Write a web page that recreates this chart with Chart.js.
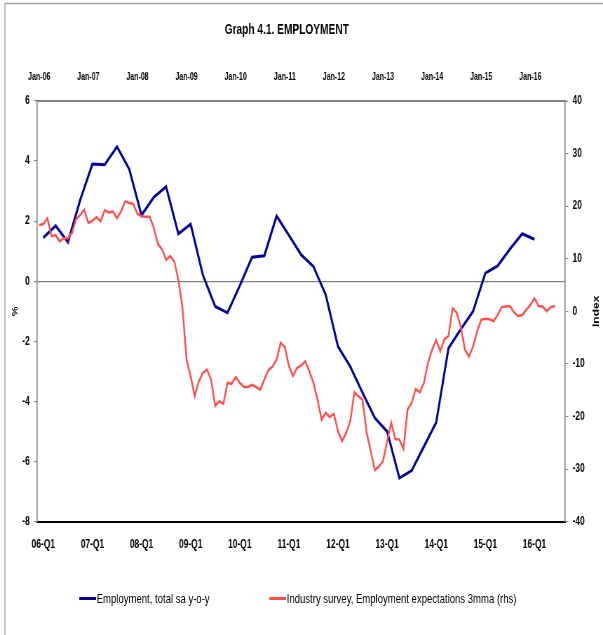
<!DOCTYPE html>
<html>
<head>
<meta charset="utf-8">
<title>Graph 4.1. EMPLOYMENT</title>
<script src="https://cdn.jsdelivr.net/npm/chart.js@4.4.1/dist/chart.umd.min.js"></script>
<style>
  html, body { margin: 0; background: #fff; overflow: hidden; }
  /* the original picture is squeezed sideways, so the whole chart is drawn wider and scaled */
  #wrap { position: relative; width: 860px; height: 635px; transform: scaleX(0.70116); transform-origin: 0 0; }
  #graf { width: 860px; height: 635px; }
  #legend {
    position: absolute; left: 0; top: 589px; width: 860px; height: 18px;
    font-family: 'Liberation Sans', Arial, sans-serif;
    font-size: 13.6px; color: #000; white-space: nowrap;
  }
  #legend .item { position: absolute; top: 0; display: flex; align-items: center; height: 18px; }
  #legend .swatch { width: 24px; height: 3px; margin-right: 1px; }
</style>
</head>
<body>
<div id="wrap">
  <canvas id="graf" width="860" height="635"></canvas>
  <div id="legend"></div>
</div>
<script>
const FONT = "'Liberation Sans', Arial, sans-serif";

// categories: quarters 06-Q1 .. 16-Q3 (bottom axis), months Jan-06 .. Sep-16 (top axis)
const years = ['06','07','08','09','10','11','12','13','14','15','16'];
const meses = ['Jan','Feb','Mar','Apr','May','Jun','Jul','Aug','Sep','Oct','Nov','Dec'];
const trimestres = [];
const mensual = [];
years.forEach(function(y){
  for (let q = 1; q <= 4; q++) trimestres.push(y + '-Q' + q);
  meses.forEach(function(m){ mensual.push(m + '-' + y); });
});
trimestres.splice(43);
mensual.splice(129);

// Employment, total sa y-o-y (%), quarterly 06-Q1 .. 16-Q1
const empleo = [
  1.45, 1.85, 1.3, 2.7,
  3.9, 3.88, 4.48, 3.73,
  2.2, 2.8, 3.15, 1.58,
  1.9, 0.2, -0.84, -1.05,
  -0.15, 0.8, 0.85, 2.17,
  1.53, 0.88, 0.49, -0.45,
  -2.17, -2.84, -3.71, -4.55,
  -5.0, -6.55, -6.3, -5.5,
  -4.7, -2.23, -1.6, -1.0,
  0.27, 0.51, 1.07, 1.58,
  1.4
];

// Industry survey, employment expectations 3mma (index), monthly Jan-06 .. Jul-16
const encuesta = [
  16.4, 16.6, 17.7, 14.3, 14.5, 13.3, 13.9, 13.9, 14.9, 17.5, 18.3, 19.3,
  16.8, 17.2, 17.9, 17.1, 19.2, 18.8, 19.0, 17.7, 19.0, 20.9, 20.6, 20.4,
  18.5, 18.1, 18.0, 18.0, 15.8, 12.8, 11.8, 9.8, 10.5, 9.5, 6.0, 0.7,
  -9.2, -12.4, -16.1, -13.3, -11.7, -11.1, -13.0, -18.0, -17.1, -17.6, -13.6, -13.8,
  -12.5, -13.6, -14.4, -14.4, -14.0, -14.4, -14.9, -13.0, -11.2, -10.5, -9.2, -6.0,
  -6.8, -10.4, -12.3, -10.8, -10.3, -9.5, -11.4, -13.6, -16.8, -20.6, -19.3, -20.1,
  -19.5, -22.8, -24.7, -23.1, -20.9, -15.4, -16.2, -16.8, -23.1, -26.6, -30.2, -29.5,
  -28.5, -24.7, -21.2, -24.3, -24.4, -26.2, -18.7, -17.4, -14.8, -15.4, -13.6, -9.8,
  -7.3, -5.5, -7.6, -5.3, -4.7, 0.6, -0.3, -2.9, -7.3, -8.6, -6.7, -3.8,
  -1.6, -1.4, -1.5, -1.9, -0.7, 0.8, 0.9, 1.0, -0.2, -0.9, -0.7, 0.3,
  1.2, 2.5, 1.0, 0.9, 0.0, 0.8, 1.0
];

const azul = '#000099';
const rojo = '#FF5050';
const leyendaX = [113, 384];

const extras = {
  id: 'extras',
  beforeDraw(chart){
    const c = chart.ctx;
    c.save();
    c.strokeStyle = '#a0a0a0';
    c.lineWidth = 1.4;
    c.beginPath();
    c.moveTo(7, chart.height);
    c.lineTo(7, 3.5);
    c.lineTo(chart.width, 3.5);
    c.stroke();
    c.restore();
  },
  afterDraw(chart){
    // right axis title reads bottom to top, like the left one
    const c = chart.ctx;
    const a = chart.chartArea;
    c.save();
    c.translate(chart.width - 9, (a.top + a.bottom) / 2);
    c.rotate(-Math.PI / 2);
    c.fillStyle = '#000';
    c.font = 'bold 12px ' + FONT;
    c.textAlign = 'center';
    c.textBaseline = 'middle';
    c.fillText('Index', 0, 0);
    c.restore();
  }
};

const chart = new Chart('graf', {
  type: 'line',
  data: {
    datasets: [{
      label: 'Employment, total sa y-o-y',
      data: empleo,
      xAxisID: 'x',
      yAxisID: 'y',
      borderColor: azul,
      backgroundColor: azul,
      borderWidth: 3,
      pointRadius: 0,
      order: 1
    },
    {
      label: 'Industry survey, Employment expectations 3mma (rhs)',
      data: encuesta,
      xAxisID: 'x2',
      yAxisID: 'y2',
      borderColor: rojo,
      backgroundColor: rojo,
      borderWidth: 2.5,
      pointRadius: 0,
      order: 0
    }]
  },
  options: {
    responsive: false,
    animation: false,
    layout: { padding: { top: 3, left: -18, right: 24, bottom: 67 } },
    plugins: {
      legend: { display: false },
      tooltip: { enabled: false },
      title: {
        display: true,
        text: 'Graph 4.1. EMPLOYMENT',
        color: '#000',
        font: { family: FONT, size: 14.5, weight: 'bold' },
        padding: { top: 18.3, bottom: 14.3 }
      }
    },
    scales: {
      x: {
        type: 'category',
        labels: trimestres,
        position: 'bottom',
        offset: true,
        grid: { display: false, drawTicks: false },
        border: { display: true, color: '#000', width: 2 },
        ticks: {
          autoSkip: false,
          maxRotation: 0,
          padding: 16,
          color: '#000',
          font: { family: FONT, size: 12, weight: 'bold' },
          callback: function(v){
            const l = this.getLabelForValue(v);
            return l.endsWith('Q1') ? l : '';
          }
        }
      },
      x2: {
        type: 'category',
        labels: mensual,
        position: 'top',
        offset: true,
        grid: { display: false, drawTicks: false },
        border: { display: true, color: '#808080', width: 2 },
        ticks: {
          autoSkip: false,
          maxRotation: 0,
          padding: 18,
          color: '#000',
          font: { family: FONT, size: 10, weight: 'bold' },
          callback: function(v){
            const l = this.getLabelForValue(v);
            return l.startsWith('Jan') ? l : '';
          }
        }
      },
      y: {
        position: 'left',
        min: -8,
        max: 6,
        afterFit(s){ s.width = 71; },
        grid: {
          tickLength: 4.5,
          tickColor: '#808080',
          color: function(ctx){ return ctx.tick && ctx.tick.value === 0 ? '#808080' : 'rgba(0,0,0,0)'; },
          lineWidth: 1.2
        },
        border: { display: true, color: '#808080', width: 1.6 },
        title: {
          display: true,
          text: '%',
          color: '#000',
          font: { family: FONT, size: 11, weight: 'bold' },
          padding: { top: 33, bottom: 0 }
        },
        ticks: {
          stepSize: 2,
          padding: 6,
          color: '#000',
          font: { family: FONT, size: 12, weight: 'bold' }
        }
      },
      y2: {
        position: 'right',
        min: -40,
        max: 40,
        afterFit(s){ s.width = 30; },
        grid: { drawOnChartArea: false, tickLength: 4.5, tickColor: '#808080' },
        border: { display: true, color: '#808080', width: 1.6 },
        ticks: {
          stepSize: 10,
          padding: 6,
          color: '#000',
          font: { family: FONT, size: 12, weight: 'bold' }
        }
      }
    }
  },
  plugins: [extras]
});

// leyenda
const ley = document.getElementById('legend');
chart.data.datasets.forEach(function(ds, i){
  const it = document.createElement('div');
  it.className = 'item';
  it.style.left = leyendaX[i] + 'px';
  const sw = document.createElement('span');
  sw.className = 'swatch';
  sw.style.background = ds.borderColor;
  const tx = document.createElement('span');
  tx.textContent = ds.label;
  it.appendChild(sw);
  it.appendChild(tx);
  ley.appendChild(it);
});
</script>
</body>
</html>
